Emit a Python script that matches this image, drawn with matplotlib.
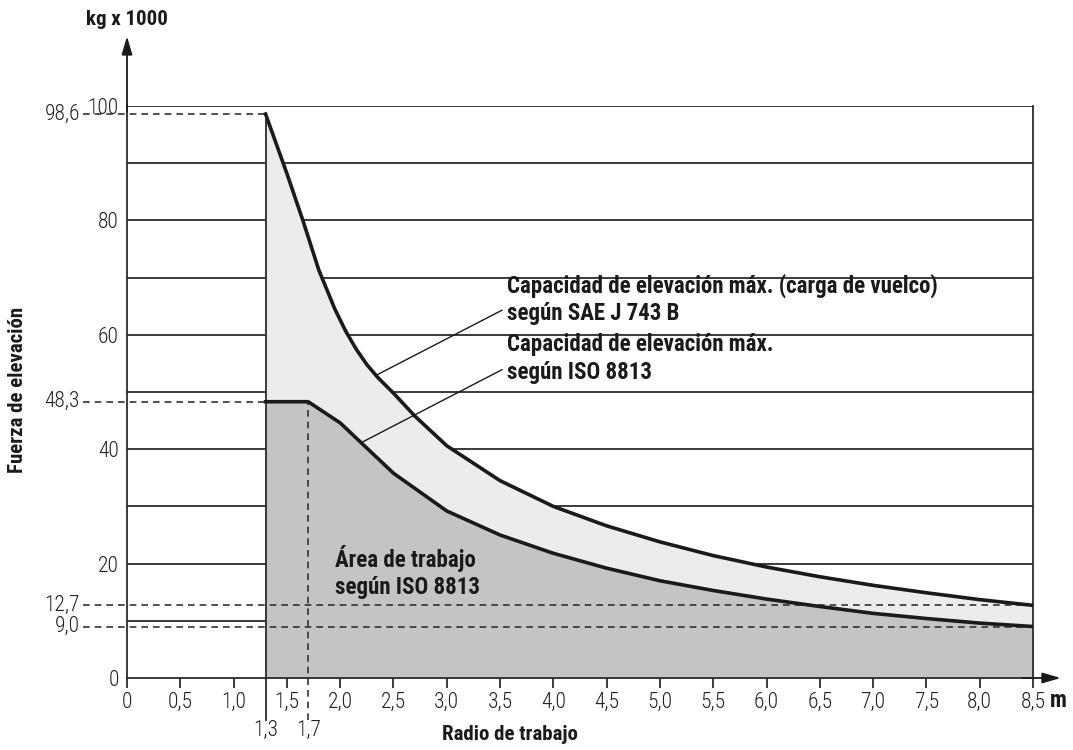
import matplotlib
matplotlib.use("Agg")
import matplotlib.pyplot as plt
from matplotlib import font_manager

# radio de trabajo (m) / fuerza de elevacion (kg x 1000)
radio_sae = [1.3, 1.5, 1.65, 1.8, 1.95, 2.05, 2.15, 2.25, 2.35, 2.5, 2.7, 3.0, 3.5, 4.0,
             4.5, 5.0, 5.5, 6.0, 6.5, 7.0, 7.5, 8.0, 8.5]
carga_sae = [98.6, 88.2, 80.0, 71.3, 64.5, 60.7, 57.5, 54.8, 52.6, 49.8, 45.8, 40.6, 34.5, 30.0,
             26.6, 23.8, 21.4, 19.4, 17.7, 16.2, 14.9, 13.7, 12.7]
radio_iso = [1.3, 1.7, 2.0, 2.25, 2.5, 3.0, 3.5, 4.0, 4.5, 5.0, 5.5, 6.0, 6.5, 7.0, 7.5, 8.0, 8.5]
carga_iso = [48.3, 48.3, 44.6, 40.2, 35.8, 29.2, 25.0, 21.8, 19.2, 17.0, 15.3, 13.8, 12.5, 11.3,
             10.4, 9.6, 9.0]

x_ticks = [i * 0.5 for i in range(18)]
y_ticks = [0, 20, 40, 60, 80, 100]
grid_y = [10, 20, 30, 40, 50, 60, 70, 80, 90, 100]
marcas_y = [98.6, 48.3, 12.7, 9.0]
marcas_x = [1.3, 1.7]


def pick_font(names):
    avail = {f.name for f in font_manager.fontManager.ttflist}
    for n in names:
        if n in avail:
            return n
    return "DejaVu Sans"


FONT = pick_font(["Liberation Sans Narrow", "Roboto Condensed", "Liberation Sans", "Roboto"])
plt.rcParams["font.family"] = [FONT, "DejaVu Sans"]

INK = "#1a1a1a"
GRID = "#2b2b2b"
LBL = "#222222"
FS = 16.5
FT = 15.5


def coma(v, nd=1):
    return f"{v:.{nd}f}".replace(".", ",")


def main():
    fig = plt.figure(figsize=(10.73, 7.5), dpi=100)
    ax = fig.add_axes([127 / 1073, 72 / 750, 906 / 1073, 572 / 750])
    ax.set_xlim(0, 8.5)
    ax.set_ylim(0, 100)

    ax.spines["top"].set_visible(False)
    for s in ["left", "bottom", "right"]:
        ax.spines[s].set_color(GRID)
        ax.spines[s].set_linewidth(1.3)

    for g in grid_y:
        ax.axhline(g, color=GRID, lw=1.3, zorder=1)

    # areas: oscuro bajo ISO, claro entre ISO y SAE
    ax.fill_between(radio_iso, 0, carga_iso, color="#c4c4c4", lw=0, zorder=2)
    ax.fill(radio_sae + radio_iso[::-1], carga_sae + carga_iso[::-1],
            color="#ebeced", lw=0, zorder=2)

    # borde vertical en 1,3
    ax.plot([1.3, 1.3], [-7.3, 98.6], color=GRID, lw=1.3, zorder=3, clip_on=False)
    # curvas
    ax.plot(radio_sae, carga_sae, color=INK, lw=2.6, zorder=5, solid_joinstyle="round")
    ax.plot(radio_iso, carga_iso, color=INK, lw=2.6, zorder=5, solid_joinstyle="round")

    # lineas de referencia discontinuas
    dash = dict(color="#333333", lw=1.2, ls=(0, (4, 3)), zorder=4, clip_on=False)
    x0 = -0.41
    ax.plot([x0, 1.3], [98.6, 98.6], **dash)
    ax.plot([x0, 1.7], [48.3, 48.3], **dash)
    ax.plot([x0, 8.5], [12.7, 12.7], **dash)
    ax.plot([x0, 8.5], [9.0, 9.0], **dash)
    ax.plot([1.7, 1.7], [-7.3, 48.3], **dash)

    for v in marcas_y:
        ax.text(x0 - 0.03, v, coma(v), ha="right", va="center", fontsize=FT, color=LBL,
                fontweight="light")
    for v in marcas_x:
        ax.text(v, -9.2, coma(v), ha="center", va="center", fontsize=FT, color=LBL,
                fontweight="light")

    # ejes
    ax.set_xticks(x_ticks)
    ax.set_xticklabels(["0"] + [coma(v) for v in x_ticks[1:]], fontweight="light")
    ax.set_yticks(y_ticks)
    ax.set_yticklabels([str(v) for v in y_ticks], fontweight="light")
    ax.tick_params(axis="x", direction="out", length=7, width=1.3, color=GRID, pad=3,
                   labelsize=FT, labelcolor=LBL)
    ax.tick_params(axis="y", length=0, pad=6, labelsize=FT, labelcolor=LBL)

    arrow = dict(arrowstyle="-|>,head_length=1.1,head_width=0.32", color=INK, lw=1.3,
                 shrinkA=0, shrinkB=0)
    ax.annotate("", xy=(0, 112.2), xytext=(0, 99), arrowprops=arrow, annotation_clip=False)
    ax.annotate("", xy=(8.76, 0), xytext=(8.4, 0), arrowprops=arrow, annotation_clip=False)

    ax.text(8.66, -4.0, "m", ha="left", va="center", fontsize=FS, fontweight="bold", color=INK)
    ax.text(0.0, 115.1, "kg x 1000", ha="center", va="center", fontsize=15, fontweight="bold",
            color=INK)
    fig.text(18 / 1073, 1 - 390 / 750, "Fuerza de elevación", rotation=90, ha="center",
             va="center", fontsize=15, fontweight="bold", color=INK)
    fig.text(510 / 1073, 1 - 735 / 750, "Radio de trabajo", ha="center", va="center",
             fontsize=15, fontweight="bold", color=INK)

    # rotulos de las curvas
    txt = dict(fontsize=FS, fontweight="bold", color=INK, ha="left", va="center", linespacing=1.25)
    ax.text(3.565, 66.2, "Capacidad de elevación máx. (carga de vuelco)\nsegún SAE J 743 B", **txt)
    ax.text(3.565, 55.9, "Capacidad de elevación máx.\nsegún ISO 8813", **txt)
    ax.text(1.95, 18.5, "Área de trabajo\nsegún ISO 8813", zorder=6, **txt)

    ax.plot([2.345, 3.518], [53.0, 64.3], color=INK, lw=1.0, zorder=6)
    ax.plot([2.214, 3.518], [41.3, 53.9], color=INK, lw=1.0, zorder=6)

    fig.savefig("out.png", dpi=100)


if __name__ == "__main__":
    main()
